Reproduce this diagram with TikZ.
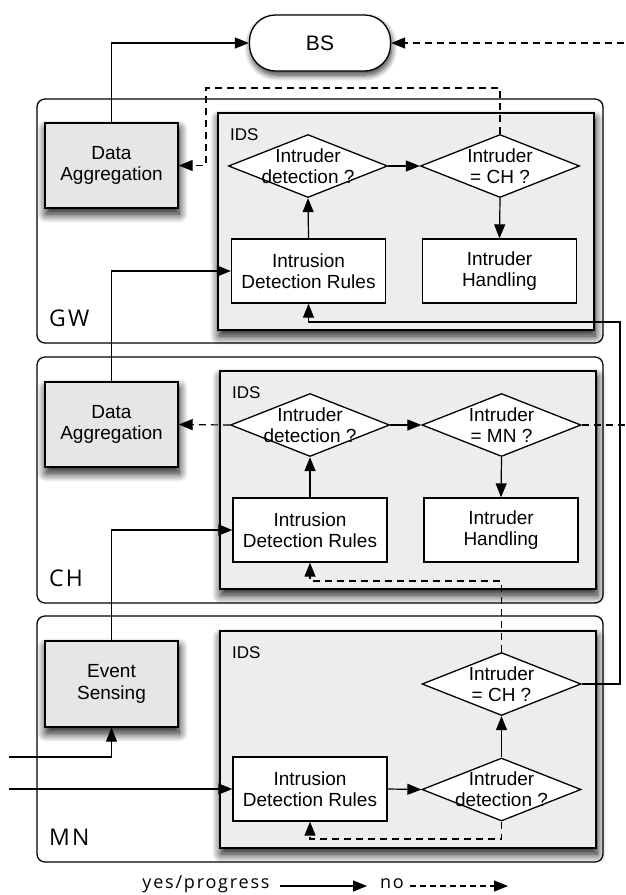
\documentclass[tikz,border=0pt]{standalone}
\usepackage{fontspec}
\setmainfont{Liberation Sans}
\newfontfamily\lblfont[LetterSpace=10]{Open Sans}
\usetikzlibrary{shapes.geometric,arrows.meta,shadows.blur}
\definecolor{idsgray}{HTML}{EDEDED}
\definecolor{boxgray}{HTML}{E6E6E6}
\begin{document}
\begin{tikzpicture}[x=1pt,y=-1pt,
  softshadow/.style={blur shadow={shadow xshift=1pt, shadow yshift=-6pt, shadow blur radius=9pt, shadow blur steps=14, shadow opacity=95}},
  outerbox/.style={draw, line width=1.3pt, rounded corners=8pt, inner sep=0pt},
  idsbox/.style={draw, line width=1.5pt, fill=idsgray, inner sep=0pt, softshadow},
  procbox/.style={draw, line width=1.4pt, fill=boxgray, inner sep=0pt, align=center,
    minimum width=133pt, minimum height=85pt, font=\fontsize{19}{21.5}\selectfont, softshadow},
  wbox/.style={draw, line width=1.3pt, fill=white, inner sep=0pt, align=center,
    minimum width=154pt, minimum height=64pt, font=\fontsize{19}{21.5}\selectfont},
  dia/.style={diamond, draw, line width=1.3pt, fill=white, inner sep=0pt,
    minimum width=159pt, minimum height=63pt},
  dtext/.style={align=center, inner sep=0pt, font=\fontsize{19}{21}\selectfont},
  idslbl/.style={anchor=west, inner sep=0pt, font=\fontsize{17}{17}\selectfont},
  tierlbl/.style={anchor=west, inner sep=0pt, font=\lblfont\fontsize{23}{23}\selectfont},
  legendlbl/.style={inner sep=0pt, font=\lblfont\fontsize{18}{18}\selectfont},
  arr/.style={line width=1.2pt, -{Triangle[length=14pt,width=11pt]}},
  dsh/.style={dash pattern=on 7pt off 5pt},
]
\useasboundingbox (0,0) rectangle (626,895);
\clip (0,0) rectangle (626,895);

% base station
\node[draw, line width=1.3pt, fill=white, rounded corners=26pt, minimum width=141pt, minimum height=56pt,
  font=\fontsize{21}{21}\selectfont,
  blur shadow={shadow xshift=1pt, shadow yshift=-4pt, shadow blur radius=6pt, shadow blur steps=10, shadow opacity=80}]
  (bs) at (320,43) {BS};

% tier boxes
\node[outerbox, minimum width=566pt, minimum height=244pt] (gw) at (320,221) {};
\node[outerbox, minimum width=566pt, minimum height=246pt] (ch) at (320,480) {};
\node[outerbox, minimum width=566pt, minimum height=246pt] (mn) at (320,739) {};
\node[tierlbl] (lgw) at (49,318) {GW};
\node[tierlbl] (lch) at (49,578) {CH};
\node[tierlbl] (lmn) at (49,837) {MN};

% IDS boxes
\node[idsbox, minimum width=376pt, minimum height=217pt] (gids) at (406,221.5) {};
\node[idsbox, minimum width=376pt, minimum height=218pt] (cids) at (408,480) {};
\node[idsbox, minimum width=376pt, minimum height=217pt] (mids) at (408,739.5) {};
\node[idslbl] (lgids) at (230,135) {IDS};
\node[idslbl] (lcids) at (232,393) {IDS};
\node[idslbl] (lmids) at (232,653) {IDS};

% GW tier
\node[procbox] (gda) at (111.5,165.5) {Data\\Aggregation};
\node[dia] (gdet) at (308,166) {};
\node[dtext] (gdett) at (gdet) {Intruder\\detection ?};
\node[dia] (gch) at (500,166) {};
\node[dtext] (gcht) at (gch) {Intruder\\= CH ?};
\node[wbox] (grules) at (308.5,271) {Intrusion\\Detection Rules};
\node[wbox] (ghand) at (499.5,271) {Intruder\\Handling};

% CH tier
\node[procbox] (cda) at (111.5,424.5) {Data\\Aggregation};
\node[dia] (cdet) at (310,425) {};
\node[dtext] (cdett) at (cdet) {Intruder\\detection ?};
\node[dia] (cmn) at (501.5,425) {};
\node[dtext] (cmnt) at (cmn) {Intruder\\= MN ?};
\node[wbox] (crules) at (310,530) {Intrusion\\Detection Rules};
\node[wbox] (chand) at (501,530) {Intruder\\Handling};

% MN tier
\node[procbox, minimum height=86pt] (mes) at (111.5,684) {Event\\Sensing};
\node[dia] (mch) at (501.5,684) {};
\node[dtext] (mcht) at (mch) {Intruder\\= CH ?};
\node[wbox] (mrules) at (310,789) {Intrusion\\Detection Rules};
\node[dia] (mdet) at (501.5,789.5) {};
\node[dtext] (mdett) at (mdet) {Intruder\\detection ?};

% coordinates
\coordinate (farR) at (640,425);
\coordinate (gloop) at (206,88);
\coordinate (rbus) at (620,322);
\coordinate (mloop) at (501.5,581);
\coordinate (mloop2) at (501.5,839);
\coordinate (in1) at (9,757);
\coordinate (in2) at (9,789);

% connectors GW
\draw[arr] (gda.north) |- (bs.west);
\draw[arr,dsh] (cmn.east) -- (farR) |- (bs.east);
\draw[arr,dsh] (gch.north) |- (gloop) |- (gda.east);
\draw[arr] (gdet.east) -- (gch.west);
\draw[arr] (grules.north) -- (gdet.south);
\draw[arr] (gch.south) -- (ghand.north);
\draw[arr] (cda.north) |- (grules.west);
\draw[arr] (mch.east) -| (rbus) -| (grules.south);

% connectors CH
\draw[arr,dsh] (cdet.west) -- (cda.east);
\draw[arr] (cdet.east) -- (cmn.west);
\draw[arr] (crules.north) -- (cdet.south);
\draw[arr] (cmn.south) -- (chand.north);
\draw[arr] (mes.north) |- (crules.west);
\draw[arr,dsh] (mch.north) -- (mloop) -| (crules.south);

% connectors MN
\draw[arr] (in1) -| (mes.south);
\draw[arr] (in2) -- (mrules.west);
\draw[arr] (mrules.east) -- (mdet.west);
\draw[arr] (mdet.north) -- (mch.south);
\draw[arr,dsh] (mdet.south) -- (mloop2) -| (mrules.south);

% legend
\node[legendlbl] (lyes) at (206,884) {yes/progress};
\node[legendlbl] (lno) at (392,884) {no};
\coordinate (la1) at (280,886);
\coordinate (la2) at (367,886);
\coordinate (lb1) at (410,886);
\coordinate (lb2) at (508,886);
\draw[arr] (la1) -- (la2);
\draw[arr,dash pattern=on 6pt off 4pt] (lb1) -- (lb2);
\end{tikzpicture}
\end{document}
